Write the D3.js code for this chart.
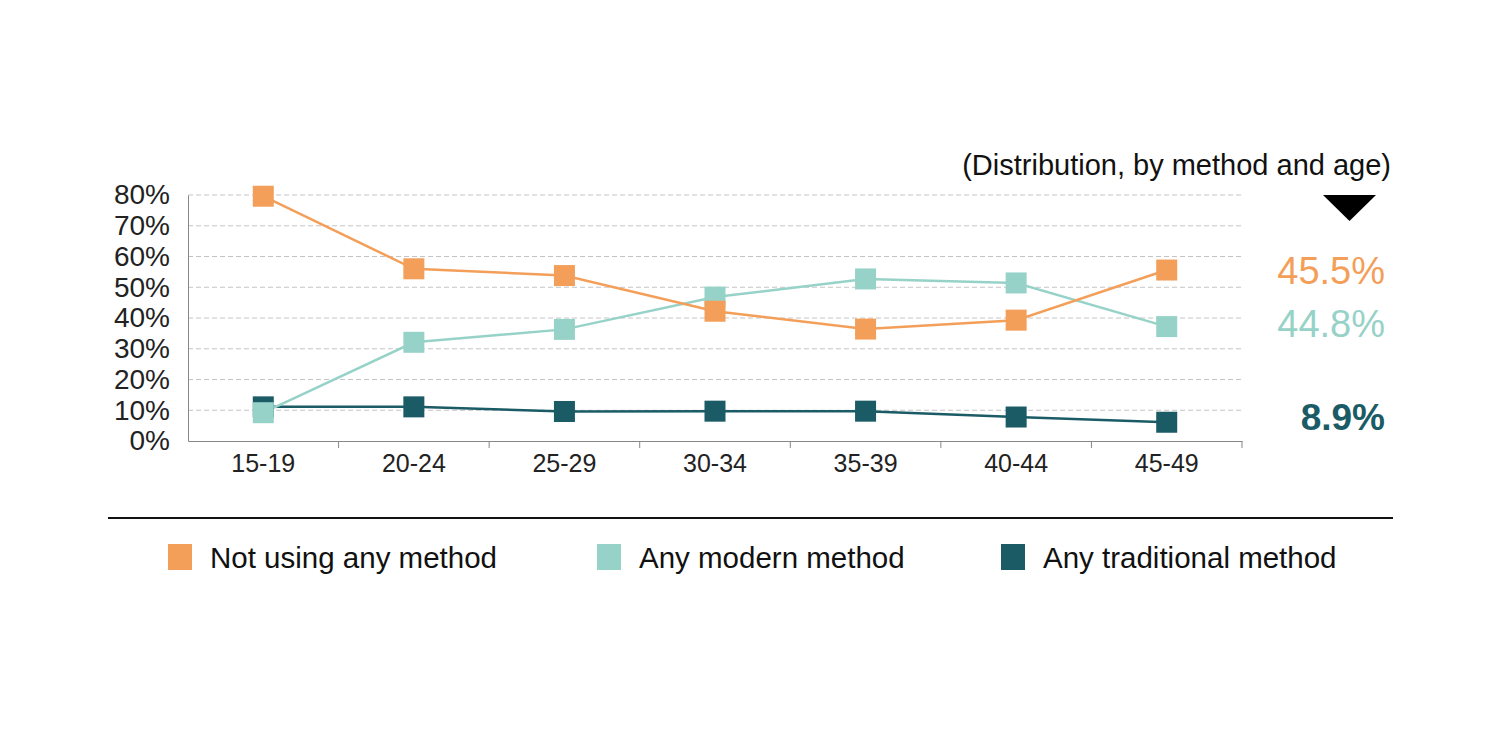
<!DOCTYPE html>
<html>
<head>
<meta charset="utf-8">
<script src="https://cdn.jsdelivr.net/npm/d3@7/dist/d3.min.js"></script>
<style>
  html, body { margin: 0; padding: 0; background: #fff; }
  svg { display: block; font-family: "Liberation Sans", Arial, sans-serif; }
</style>
</head>
<body>
<div id="chart"></div>
<script>
// data
var ageGroups = ["15-19", "20-24", "25-29", "30-34", "35-39", "40-44", "45-49"];
var notUsing = [79.6, 56.0, 53.8, 42.2, 36.4, 39.3, 55.6];
var modern = [9.2, 32.1, 36.3, 46.8, 52.7, 51.4, 37.2];
var traditional = [11.1, 11.1, 9.6, 9.7, 9.7, 7.8, 6.1];
var yTicks = [0, 10, 20, 30, 40, 50, 60, 70, 80];
var seriesNames = ["Not using any method", "Any modern method", "Any traditional method"];
var totals = ["45.5%", "44.8%", "8.9%"];

var colors = ["#f39f5a", "#97d2c8", "#1a5b66"];

(function() {
  var svg = d3.select("#chart").append("svg")
      .attr("width", 1501).attr("height", 751);

  var plotLeft = 188, plotRight = 1242, plotTop = 195, plotBottom = 441;

  var x = d3.scaleBand().domain(ageGroups).range([plotLeft, plotRight]);
  var y = d3.scaleLinear().domain([0, 80]).range([plotBottom, plotTop]);

  // grid
  svg.append("g").selectAll("line").data(yTicks.filter(function(d) { return d > 0; }))
      .enter().append("line")
      .attr("x1", plotLeft).attr("x2", plotRight)
      .attr("y1", function(d) { return y(d); }).attr("y2", function(d) { return y(d); })
      .attr("stroke", "#c4c4c4").attr("stroke-width", 1)
      .attr("stroke-dasharray", "5,3");

  // y axis
  var yAxis = svg.append("g").attr("transform", "translate(" + plotLeft + ",0)")
      .call(d3.axisLeft(y).tickValues(yTicks).tickSize(0).tickPadding(18)
          .tickFormat(function(d) { return d + "%"; }));
  yAxis.select(".domain").attr("stroke", "#888");
  yAxis.selectAll("text").attr("font-size", 28).attr("fill", "#222")
      .attr("font-family", "Liberation Sans, Arial, sans-serif");

  // x axis
  var xAxis = svg.append("g").attr("transform", "translate(0," + plotBottom + ")")
      .call(d3.axisBottom(x).tickSize(0).tickPadding(13));
  xAxis.select(".domain").attr("stroke", "#888");
  xAxis.selectAll("text").attr("font-size", 25).attr("fill", "#222")
      .attr("font-family", "Liberation Sans, Arial, sans-serif");
  // ticks at band boundaries
  svg.append("g").selectAll("line").data(ageGroups)
      .enter().append("line")
      .attr("x1", function(d) { return x(d) + x.step(); })
      .attr("x2", function(d) { return x(d) + x.step(); })
      .attr("y1", plotBottom).attr("y2", plotBottom + 7)
      .attr("stroke", "#888");

  var cx = function(d, i) { return x(ageGroups[i]) + x.bandwidth() / 2; };
  var line = d3.line().x(cx).y(function(d) { return y(d); });

  var series = [notUsing, modern, traditional];
  var drawOrder = [2, 1, 0];
  var ms = 21;

  drawOrder.forEach(function(s) {
    svg.append("path").datum(series[s])
        .attr("d", line)
        .attr("fill", "none")
        .attr("stroke", colors[s])
        .attr("stroke-width", 2.5);
  });
  drawOrder.forEach(function(s) {
    svg.append("g").selectAll("rect").data(series[s]).enter().append("rect")
        .attr("x", function(d, i) { return cx(d, i) - ms / 2; })
        .attr("y", function(d) { return y(d) - ms / 2; })
        .attr("width", ms).attr("height", ms)
        .attr("fill", colors[s]);
  });

  // title
  svg.append("text").attr("x", 1391).attr("y", 175)
      .attr("text-anchor", "end").attr("font-size", 29).attr("fill", "#111")
      .text("(Distribution, by method and age)");

  svg.append("path")
      .attr("d", "M1323,195 L1376,195 L1349.5,221 Z")
      .attr("fill", "#000");

  // totals on the right
  var totalY = [284, 337, 430];
  totals.forEach(function(t, i) {
    svg.append("text").attr("x", 1385).attr("y", totalY[i])
        .attr("text-anchor", "end")
        .attr("font-size", i === 2 ? 37 : 38)
        .attr("font-weight", i === 2 ? "bold" : "normal")
        .attr("fill", colors[i]).text(t);
  });

  // rule
  svg.append("line").attr("x1", 108).attr("x2", 1393)
      .attr("y1", 518).attr("y2", 518)
      .attr("stroke", "#111").attr("stroke-width", 2);

  // legend
  var legendX = [168, 597, 1001];
  seriesNames.forEach(function(n, i) {
    var g = svg.append("g").attr("transform", "translate(" + legendX[i] + ",544)");
    g.append("rect").attr("width", 24).attr("height", 26).attr("fill", colors[i]);
    g.append("text").attr("x", 42).attr("y", 24)
        .attr("font-size", 29.5).attr("fill", "#111").text(n);
  });
})();
</script>
</body>
</html>
